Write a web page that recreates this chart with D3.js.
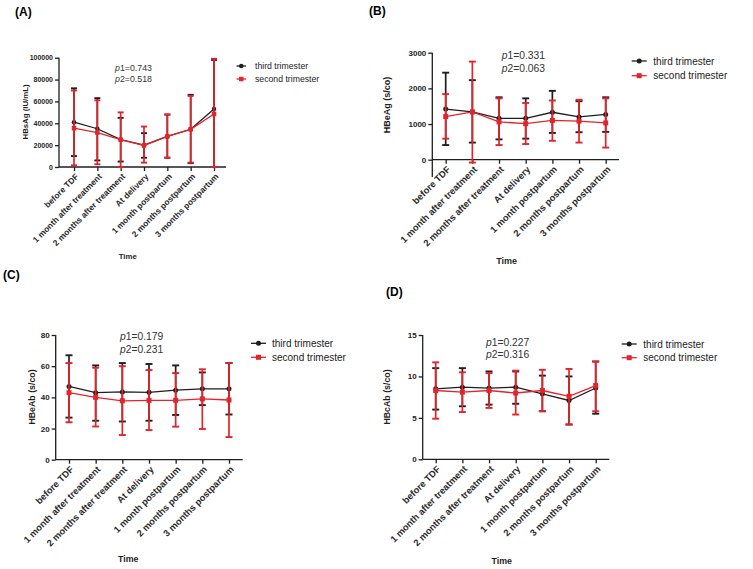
<!DOCTYPE html>
<html>
<head>
<meta charset="utf-8">
<script src="https://cdn.jsdelivr.net/npm/d3@7"></script>
<style>
  body { margin: 0; background: #fff; }
  svg { font-family: Arial, "Liberation Sans", sans-serif; }
</style>
</head>
<body>
<svg id="chart" width="753" height="569"></svg>
<script>
// time points shared by all four panels
const timepoints = ["before TDF", "1 month after treatment", "2 months after treatment",
  "At delivery", "1 month postpartum", "2 months postpartum", "3 months postpartum"];

// (A) HBsAg
const hbsagThird = [41000, 35000, 25000, 20000, 28000, 34500, 53000];
const hbsagThirdLo = [10000, 6000, 5000, 8500, 8500, 3500, 0];
const hbsagThirdHi = [72000, 63000, 45000, 31000, 48000, 66000, 98000];
const hbsagSecond = [35500, 31500, 25000, 19700, 28000, 34500, 48500];
const hbsagSecondLo = [1500, 2500, 0, 4000, 8500, 4000, 0];
const hbsagSecondHi = [70000, 61000, 50000, 37000, 48000, 65000, 99000];
const hbsagTicks = [0, 20000, 40000, 60000, 80000, 100000];

// (B) HBeAg
const hbeagThird = [1420, 1340, 1160, 1160, 1330, 1200, 1270];
const hbeagThirdLo = [410, 480, 570, 590, 750, 770, 780];
const hbeagThirdHi = [2440, 2230, 1750, 1720, 1930, 1640, 1750];
const hbeagSecond = [1210, 1340, 1060, 1010, 1100, 1080, 1030];
const hbeagSecondLo = [590, -80, 410, 440, 530, 480, 340];
const hbeagSecondHi = [1840, 2750, 1720, 1590, 1660, 1680, 1720];
const hbeagTicks = [0, 1000, 2000, 3000];

// (C) HBeAb
const hbeabThird = [47, 43, 43.5, 43.2, 44.6, 45.5, 45.5];
const hbeabThirdLo = [27, 25, 24.5, 25, 28.7, 35, 29];
const hbeabThirdHi = [67, 60.5, 62, 61.4, 60.5, 56, 62];
const hbeabSecond = [43, 40, 37.8, 38, 38.1, 39, 38.3];
const hbeabSecondLo = [24, 21.3, 15.8, 19, 21.2, 19.7, 14.5];
const hbeabSecondHi = [62, 59, 60, 57.5, 55.6, 58, 62];
const hbeabTicks = [0, 20, 40, 60, 80];

// (D) HBcAb
const hbcabThird = [8.5, 8.7, 8.6, 8.7, 7.9, 7.1, 8.6];
const hbcabThirdLo = [6.0, 6.4, 6.6, 6.7, 5.8, 4.2, 5.5];
const hbcabThirdHi = [11.0, 11.0, 10.6, 10.6, 10.1, 10.0, 11.8];
const hbcabSecond = [8.3, 8.1, 8.3, 8.0, 8.3, 7.6, 8.9];
const hbcabSecondLo = [4.9, 5.7, 6.2, 5.4, 5.8, 4.2, 5.8];
const hbcabSecondHi = [11.7, 10.5, 10.4, 10.7, 10.8, 10.9, 11.8];
const hbcabTicks = [0, 5, 10, 15];

const seriesNames = ["third trimester", "second trimester"];
const black = "#1e1e1e";
const red = "#e3242b";

const svg = d3.select("#chart");

function drawPanel(p) {
	const g = svg.append("g");
	const x = d3.scalePoint().domain(timepoints).range([p.tx0, p.tx1]);
	const y = d3.scaleLinear().domain([0, d3.max(p.ticks)]).range([p.yBot, p.yTop]);

	// panel letter
	g.append("text").attr("x", p.letter[0]).attr("y", p.letter[1])
		.attr("font-size", 12).attr("font-weight", "bold").text(p.name);

	// y axis
	const ya = g.append("g").attr("transform", "translate(" + p.ax + ",0)")
		.call(d3.axisLeft(y).tickValues(p.ticks).tickSize(4).tickPadding(2).tickFormat(d3.format("d")));
	ya.select(".domain").remove();
	ya.selectAll("line").attr("stroke", black).attr("stroke-width", 1.3);
	ya.selectAll("text").attr("font-size", p.fs.yt).attr("font-weight", "bold").attr("fill", black).attr("font-family", null);
	g.append("line").attr("x1", p.ax).attr("x2", p.ax)
		.attr("y1", p.yTop).attr("y2", p.yAxisEnd || p.yBot)
		.attr("stroke", black).attr("stroke-width", 1.3);

	// x axis
	const xa = g.append("g").attr("transform", "translate(0," + p.yBot + ")")
		.call(d3.axisBottom(x).tickSize(4).tickFormat(""));
	xa.select(".domain").remove();
	xa.selectAll("line").attr("stroke", black).attr("stroke-width", 1.3);
	g.append("line").attr("x1", p.ax).attr("x2", p.axEnd)
		.attr("y1", p.yBot).attr("y2", p.yBot)
		.attr("stroke", black).attr("stroke-width", 1.3);

	// rotated category labels
	g.selectAll(".xl").data(timepoints).enter().append("text")
		.attr("transform", d => "translate(" + (x(d) + 3) + "," + (p.yBot + 8) + ") rotate(-45)")
		.attr("text-anchor", "end")
		.attr("dy", "0.35em")
		.attr("font-size", p.fs.xt)
		.attr("font-weight", "bold")
		.attr("fill", "#2a2a2a")
		.text(d => d);

	// axis titles
	g.append("text")
		.attr("transform", "translate(" + p.ylab[0] + "," + p.ylab[1] + ") rotate(-90)")
		.attr("text-anchor", "middle").attr("dy", "0.35em")
		.attr("font-size", p.fs.lab).attr("font-weight", "bold").attr("fill", black)
		.text(p.ylabel);
	g.append("text").attr("x", p.time[0]).attr("y", p.time[1])
		.attr("text-anchor", "middle").attr("dy", "0.35em")
		.attr("font-size", p.fs.lab).attr("font-weight", "bold").attr("fill", black)
		.text("Time");

	// p values
	p.pvals.forEach(function(v, i) {
		const t = g.append("text").attr("x", p.pos[0]).attr("y", p.pos[1] + i * p.pos[2])
			.attr("dy", "0.35em").attr("font-size", p.fs.p).attr("fill", "#333");
		t.append("tspan").attr("font-style", "italic").text("p");
		t.append("tspan").text((i + 1) + "=" + v);
	});

	// series: third trimester first, second trimester on top
	const series = [
		{ mean: p.third, lo: p.thirdLo, hi: p.thirdHi, color: black, shape: "circle" },
		{ mean: p.second, lo: p.secondLo, hi: p.secondHi, color: red, shape: "square" }
	];
	const cap = p.cap;
	series.forEach(function(s) {
		const sg = g.append("g");
		const idx = d3.range(timepoints.length);
		sg.selectAll(".eb").data(idx).enter().append("line")
			.attr("x1", i => x(timepoints[i])).attr("x2", i => x(timepoints[i]))
			.attr("y1", i => y(s.lo[i])).attr("y2", i => y(s.hi[i]))
			.attr("stroke", s.color).attr("stroke-width", 1.7);
		[s.lo, s.hi].forEach(function(arr) {
			sg.selectAll(null).data(idx).enter().append("line")
				.attr("x1", i => x(timepoints[i]) - cap).attr("x2", i => x(timepoints[i]) + cap)
				.attr("y1", i => y(arr[i])).attr("y2", i => y(arr[i]))
				.attr("stroke", s.color).attr("stroke-width", 1.9);
		});
		sg.append("path").datum(idx)
			.attr("d", d3.line().x(i => x(timepoints[i])).y(i => y(s.mean[i])))
			.attr("fill", "none").attr("stroke", s.color).attr("stroke-width", 1.3);
		if (s.shape === "circle") {
			sg.selectAll(".pt").data(idx).enter().append("circle")
				.attr("cx", i => x(timepoints[i])).attr("cy", i => y(s.mean[i]))
				.attr("r", p.mk * 0.5).attr("fill", s.color);
		} else {
			sg.selectAll(".pt").data(idx).enter().append("rect")
				.attr("x", i => x(timepoints[i]) - p.mk / 2).attr("y", i => y(s.mean[i]) - p.mk / 2)
				.attr("width", p.mk).attr("height", p.mk).attr("fill", s.color);
		}
	});

	// legend
	[black, red].forEach(function(c, i) {
		const ly = p.leg[1] + i * p.leg[2];
		g.append("line").attr("x1", p.leg[0]).attr("x2", p.leg[0] + p.leg[3])
			.attr("y1", ly).attr("y2", ly).attr("stroke", c).attr("stroke-width", 1.3);
		const mx = p.leg[0] + p.leg[3] / 2;
		if (i === 0) {
			g.append("circle").attr("cx", mx).attr("cy", ly).attr("r", p.mk * 0.5).attr("fill", c);
		} else {
			g.append("rect").attr("x", mx - p.mk / 2).attr("y", ly - p.mk / 2)
				.attr("width", p.mk).attr("height", p.mk).attr("fill", c);
		}
		g.append("text").attr("x", p.leg[4]).attr("y", ly).attr("dy", "0.35em")
			.attr("font-size", p.fs.leg).attr("fill", "#222").text(seriesNames[i]);
	});
}

drawPanel({
	name: "(A)", letter: [15, 16],
	ax: 59, axEnd: 226, tx0: 74, tx1: 214, yTop: 57.7, yBot: 167,
	ticks: hbsagTicks, ylabel: "HBsAg (IU/mL)", ylab: [25, 112], time: [127.7, 256.7],
	third: hbsagThird, thirdLo: hbsagThirdLo, thirdHi: hbsagThirdHi,
	second: hbsagSecond, secondLo: hbsagSecondLo, secondHi: hbsagSecondHi,
	pvals: ["0.743", "0.518"], pos: [115, 67.7, 11],
	leg: [236.5, 66, 13, 9.5, 255], cap: 3, mk: 4.5,
	fs: { yt: 7, xt: 8.4, lab: 7.8, p: 8.8, leg: 8.7 }
});

drawPanel({
	name: "(B)", letter: [369, 15],
	ax: 432.3, axEnd: 619, tx0: 445.7, tx1: 605.7, yTop: 52.7, yBot: 159.7, yAxisEnd: 177,
	ticks: hbeagTicks, ylabel: "HBeAg (s/co)", ylab: [386.7, 105], time: [506.7, 261],
	third: hbeagThird, thirdLo: hbeagThirdLo, thirdHi: hbeagThirdHi,
	second: hbeagSecond, secondLo: hbeagSecondLo, secondHi: hbeagSecondHi,
	pvals: ["0.331", "0.063"], pos: [501.7, 55.7, 12.6],
	leg: [631.7, 61, 14.7, 15, 653.3], cap: 3.5, mk: 5,
	fs: { yt: 8, xt: 9.3, lab: 9, p: 10.3, leg: 10 }
});

drawPanel({
	name: "(C)", letter: [3, 279],
	ax: 55.7, axEnd: 242.7, tx0: 69, tx1: 229, yTop: 335, yBot: 459.7,
	ticks: hbeabTicks, ylabel: "HBeAb (s/co)", ylab: [31.7, 397], time: [128.3, 559],
	third: hbeabThird, thirdLo: hbeabThirdLo, thirdHi: hbeabThirdHi,
	second: hbeabSecond, secondLo: hbeabSecondLo, secondHi: hbeabSecondHi,
	pvals: ["0.179", "0.231"], pos: [120, 336.7, 12.6],
	leg: [251, 343.3, 14, 15, 272], cap: 3.5, mk: 5,
	fs: { yt: 8, xt: 9.3, lab: 8.8, p: 10.3, leg: 10 }
});

drawPanel({
	name: "(D)", letter: [386, 296],
	ax: 422.7, axEnd: 609.3, tx0: 435.7, tx1: 595.7, yTop: 335, yBot: 459.3,
	ticks: hbcabTicks, ylabel: "HBcAb (s/co)", ylab: [386.7, 397], time: [501.7, 560.7],
	third: hbcabThird, thirdLo: hbcabThirdLo, thirdHi: hbcabThirdHi,
	second: hbcabSecond, secondLo: hbcabSecondLo, secondHi: hbcabSecondHi,
	pvals: ["0.227", "0.316"], pos: [486, 342, 12],
	leg: [621.7, 344, 13.7, 15, 643.3], cap: 3.5, mk: 5,
	fs: { yt: 8, xt: 9.3, lab: 8.8, p: 10.3, leg: 10 }
});
</script>
</body>
</html>
